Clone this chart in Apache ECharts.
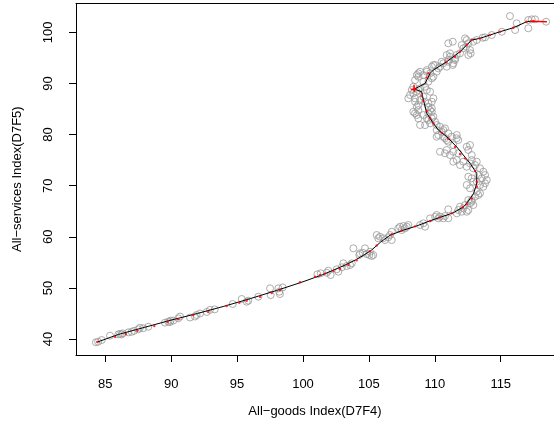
<!DOCTYPE html>
<html><head><meta charset="utf-8">
<script src="https://cdn.jsdelivr.net/npm/echarts@6/dist/echarts.min.js"></script>
<style>html,body{margin:0;padding:0;background:#fff}#c{width:554px;height:428px}</style>
</head><body><div id="c"></div>
<script>
// Observations [All-goods index, All-services index]
const obsLower = [[84.29,39.35],[84.46,39.47],[84.73,39.8],[85.36,40.65],[85.99,40.9],[86.12,41.0],[86.24,40.9],[86.32,41.1],[86.75,41.3],[87.0,41.4],[87.18,41.6],[87.5,41.9],[87.63,42.2],[87.88,42.1],[88.26,42.4],[89.53,43.2],[89.78,43.4],[89.9,43.3],[89.96,43.6],[90.16,43.6],[90.54,44.05],[90.67,44.4],[91.43,44.2],[91.8,44.4],[91.93,44.7],[92.19,45.0],[92.7,45.3],[92.94,45.7],[93.3,45.8],[94.67,46.85],[95.35,47.83],[95.73,47.3],[95.85,47.5],[96.61,48.28],[97.5,49.92],[97.55,48.6],[98.13,49.92],[98.2,49.26],[98.25,48.8],[98.46,50.1]];
const obsMid = [[101.09,52.66],[101.34,52.86],[101.8,52.97],[101.92,53.37],[102.1,52.52],[102.68,53.17],[102.56,53.64],[102.94,54.03],[103.06,54.81],[103.32,54.29],[103.57,54.48],[103.7,54.81],[103.82,57.75],[104.27,56.44],[104.32,56.77],[104.53,56.89],[104.7,57.75],[104.83,56.63],[105.03,56.44],[105.21,56.24],[105.08,57.08],[105.33,56.44]];
const obsRise = [[105.59,60.35],[105.71,59.71],[105.84,60.02],[106.09,59.71],[106.22,59.37],[106.47,59.9],[106.6,60.35],[106.73,61.0],[106.73,59.37],[107.23,61.66],[107.36,61.98],[107.49,61.33],[107.61,62.11],[107.74,61.66],[107.87,61.98],[107.99,62.31],[108.88,62.31],[109.13,62.64],[109.26,61.98],[109.64,63.62],[110.02,63.93],[110.14,64.27],[110.27,63.62],[110.39,63.93],[110.64,63.62],[110.77,64.07],[111.02,65.38],[111.02,63.62],[111.66,64.6],[111.78,65.24],[111.91,65.89],[112.04,64.91],[112.16,65.58],[112.29,66.22],[112.42,64.91],[112.54,65.24],[112.67,66.56],[112.8,66.87],[112.92,66.22]];
const obsBend = [[112.54,67.2],[112.8,67.2],[113.05,67.85],[113.18,68.83],[113.3,68.18],[113.43,68.51],[112.67,69.49],[112.42,70.14],[113.43,70.14],[113.68,69.8],[113.81,70.47],[112.92,70.78],[113.18,70.78],[112.8,71.45],[113.56,71.45],[113.94,71.12],[112.54,71.76],[113.3,72.09],[113.81,72.09],[113.68,72.74],[113.43,73.4],[112.92,73.4],[112.42,73.72],[113.05,74.05],[111.91,74.05],[112.67,74.38],[111.4,74.7],[112.16,74.7],[113.18,74.7],[111.66,75.03],[112.8,75.03],[111.15,76.01],[112.8,76.01],[110.77,76.34],[111.78,76.34],[110.39,76.65],[111.4,76.65],[110.9,76.99],[112.54,76.99],[112.42,77.63],[111.4,77.96],[112.67,77.96],[111.02,78.61],[111.78,78.94],[110.9,78.94],[110.77,79.28],[111.66,79.28],[110.14,79.59],[110.64,79.59],[111.28,79.59],[110.27,79.92],[111.66,79.92]];
const obsNeck = [[110.14,80.9],[110.52,80.57],[111.02,80.25],[110.64,80.9],[110.39,81.55],[110.77,81.23],[110.14,81.88],[108.88,81.88],[109.26,81.86],[109.64,82.21],[110.02,82.53],[109.51,82.85],[108.75,83.17],[109.39,83.19],[109.77,83.19],[109.89,83.5],[108.63,83.83],[109.13,83.83],[108.5,84.16],[109.51,84.16],[109.77,84.48],[108.37,84.48],[108.75,84.81],[109.64,84.81],[109.77,85.15],[108.75,85.79],[108.63,85.46],[109.51,85.46],[108.5,86.44],[109.26,86.44],[109.77,86.44],[108.88,86.77],[109.51,86.13],[109.13,87.42],[109.89,87.1],[107.99,87.1],[108.5,87.1],[108.12,87.75],[108.37,88.08],[108.25,88.73],[108.63,88.4],[108.75,88.73],[109.39,88.73],[109.64,88.4],[109.26,89.37],[108.88,89.06],[108.37,89.37]];
const obsTop = [[108.5,90.68],[109.13,90.35],[109.51,90.35],[109.77,91.02],[108.75,91.33],[109.89,91.33],[108.63,91.66],[109.13,91.66],[109.64,92.0],[108.75,92.0],[109.39,92.31],[110.14,92.31],[108.88,92.31],[109.39,92.64],[110.27,92.97],[109.77,93.29],[110.39,93.29],[110.9,93.29],[109.89,93.62],[110.02,93.62],[111.36,93.62],[111.4,93.95],[110.64,93.95],[111.02,94.27],[110.52,94.27],[111.53,94.93],[111.02,94.6],[111.53,94.6],[110.9,95.58],[111.15,95.91],[111.66,95.58],[111.91,95.91],[112.54,95.58],[112.72,95.91],[111.15,95.24],[112.67,96.56],[112.16,96.89],[112.37,97.2],[112.04,97.53],[111.02,97.87],[112.54,97.87],[111.36,98.18],[112.92,98.18],[112.42,98.51],[113.18,98.51],[112.29,98.84],[113.63,98.96],[113.81,99.04],[114.32,99.49],[115.08,100.14],[116.09,100.47],[117.09,100.81],[116.21,101.78],[117.09,102.43],[117.35,102.56],[117.6,102.56],[118.44,102.1],[115.7,103.2]];

// Principal curve vertices
const curveGoods = [84.4,86,88,90,92,94,96,98,100,101.5,102.6,103.3,104.0,104.6,105.2,105.9,106.6,107.5,108.6,109.6,110.5,111.4,112.2,112.6,112.95,113.18,113.18,112.67,112.16,111.66,110.9,110.27,109.89,109.39,109.13,109.0,108.44,109.26,109.64,109.89,110.9,111.91,112.42,112.8,113.43,114.95,115.96,116.97,117.3];
const curveServices = [39.4,40.9,42.3,43.7,45.0,46.4,47.9,49.5,51.2,52.6,53.8,54.6,55.5,56.4,57.4,59.0,60.3,61.2,62.1,63.1,63.9,64.7,65.9,67.2,68.5,70.5,72.4,74.4,76.0,77.6,79.6,80.9,82.2,84.2,86.8,88.4,88.9,90.0,92.0,92.64,94.27,96.22,97.53,98.51,98.84,100.14,100.92,102.1,102.2];

// Projections on the curve (red marks)
const projections = [[84.39,39.4],[85.74,40.45],[86.57,40.98],[87.43,41.62],[88.72,42.54],[89.73,43.39],[90.54,43.86],[91.68,44.7],[92.81,45.34],[94.21,46.46],[95.17,47.1],[95.73,47.5],[96.74,48.28],[97.63,49.0],[98.25,49.6],[99.77,51.1],[100.91,52.19],[101.29,52.52],[101.67,52.8],[102.3,53.3],[102.81,53.75],[103.44,54.48],[104.07,55.4],[105.08,57.2],[105.59,58.3],[106.73,60.5],[107.49,61.2],[108.5,62.05],[109.64,63.1],[110.39,63.8],[111.28,64.6],[112.12,65.8],[112.42,66.36],[112.8,67.5],[113.18,69.8],[113.18,70.78],[113.05,72.9],[112.29,75.36],[111.91,76.2],[111.53,77.6],[111.02,79.2],[110.52,80.4],[109.89,82.21],[109.64,83.19],[109.39,84.6],[109.13,86.6],[109.0,87.6],[108.44,88.9],[109.39,91.2],[109.51,92.0],[110.9,94.27],[111.53,95.24],[111.91,96.22],[112.42,97.53],[112.8,98.51],[113.43,98.84],[114.19,99.49],[114.95,100.14],[115.96,100.92],[116.97,102.1],[117.48,102.23]];
const whiskers = [[[117.22,102.2],[118.5,102.1]],[[108.2,88.9],[108.62,88.9]],[[108.42,89.75],[108.44,88.4]]];

const xTicks = [85,90,95,100,105,110,115];
const yTicks = [40,50,60,70,80,90,100];
const xTitle = 'All\u2212goods Index(D7F4)';
const yTitle = 'All\u2212services Index(D7F5)';

const observations = [].concat(obsLower, obsMid, obsRise, obsBend, obsNeck, obsTop);
const curve = curveGoods.map((g, i) => [g, curveServices[i]]);
const font = "'Liberation Sans', Arial, sans-serif";
const X_MIN = 82.78, X_MAX = 119.04, Y_MIN = 36.87, Y_MAX = 105.7;

const chart = echarts.init(document.getElementById('c'), null, {renderer: 'canvas'});
const series = [
  {type: 'scatter', data: observations, symbol: 'circle', symbolSize: 7,
   itemStyle: {color: 'rgba(0,0,0,0)', borderColor: '#999999', borderWidth: 1}, silent: true, z: 2},
  {type: 'line', data: curve, showSymbol: false, lineStyle: {color: '#000', width: 1}, silent: true, z: 3},
  {type: 'scatter', data: projections, symbol: 'circle', symbolSize: 2.4,
   itemStyle: {color: '#ff0000'}, silent: true, z: 4}
];
whiskers.forEach(w => series.push({type: 'line', data: w, showSymbol: false,
  lineStyle: {color: '#ff0000', width: 1.5}, silent: true, z: 5}));

chart.setOption({
  animation: false,
  grid: {left: 76, top: 3.3, right: 0, height: 351.7, show: false, containLabel: false, outerBoundsMode: 'none'},
  xAxis: [{type: 'value', min: X_MIN, max: X_MAX, position: 'bottom',
    name: xTitle, nameLocation: 'middle', nameGap: 50,
    nameTextStyle: {fontFamily: font, fontSize: 13, color: '#000'},
    axisLine: {show: true, onZero: false, lineStyle: {color: '#000', width: 1}}, splitLine: {show: false},
    axisTick: {show: true, length: 7, customValues: xTicks, lineStyle: {color: '#000'}},
    axisLabel: {customValues: xTicks, margin: 23, fontFamily: font, fontSize: 13, color: '#000'}},
   {type: 'value', min: X_MIN, max: X_MAX, position: 'top',
    axisLine: {show: true, onZero: false, lineStyle: {color: '#000', width: 1}},
    axisTick: {show: false}, axisLabel: {show: false}, splitLine: {show: false}}],
  yAxis: {type: 'value', min: Y_MIN, max: Y_MAX,
    name: yTitle, nameLocation: 'middle', nameGap: 52, nameRotate: 90,
    nameTextStyle: {fontFamily: font, fontSize: 13, color: '#000'},
    axisLine: {show: true, onZero: false, lineStyle: {color: '#000', width: 1}}, splitLine: {show: false},
    axisTick: {show: true, length: 7, customValues: yTicks, lineStyle: {color: '#000'}},
    axisLabel: {customValues: yTicks, rotate: 90, margin: 21, fontFamily: font, fontSize: 13, color: '#000'}},
  series: series
});
</script></body></html>
